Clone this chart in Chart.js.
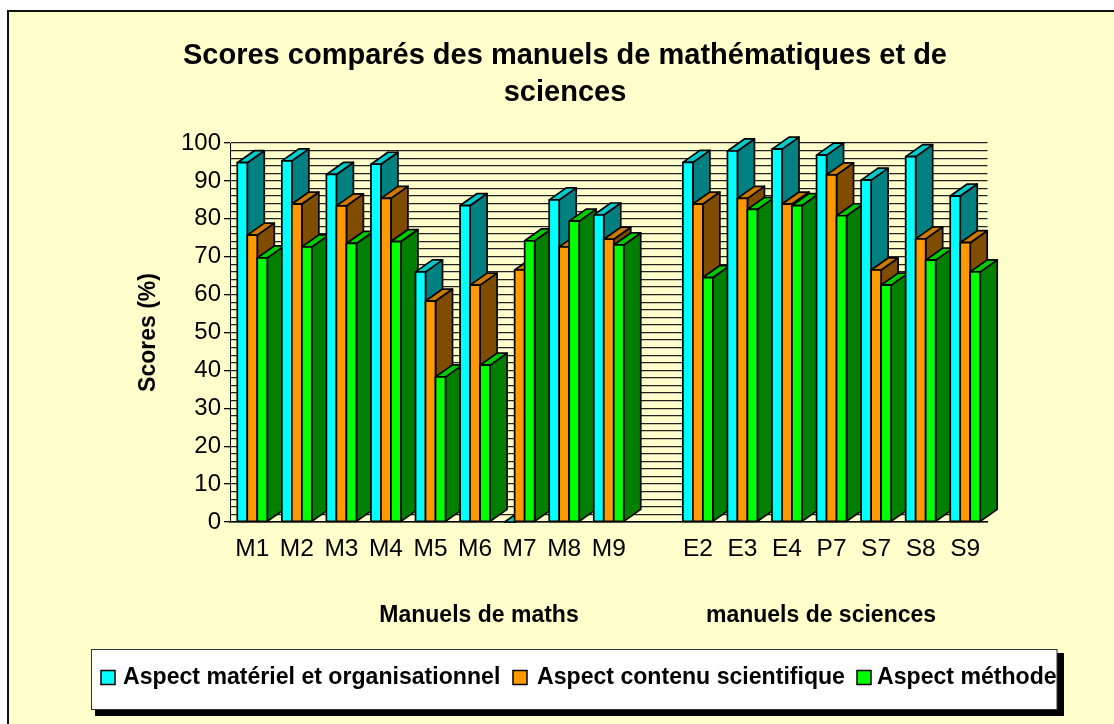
<!DOCTYPE html>
<html lang="fr">
<head>
<meta charset="utf-8">
<title>Scores comparés</title>
<script src="https://cdn.jsdelivr.net/npm/chart.js@4/dist/chart.umd.min.js"></script>
<style>
  html, body { margin: 0; padding: 0; background: #fff; overflow: hidden; }
  #bg { position: absolute; left: 7px; top: 10px; width: 1107px; height: 714px; box-sizing: border-box;
        background: #FFFFCC; border-left: 2px solid #111; border-top: 2px solid #111; }
  #chart { position: absolute; left: 18px; top: 0; }
</style>
</head>
<body>
<div id="bg"></div>
<canvas id="chart" width="1096" height="724"></canvas>
<script>
// categories (the empty one is the gap between maths and sciences)
const categories = ['M1', 'M2', 'M3', 'M4', 'M5', 'M6', 'M7', 'M8', 'M9', '', 'E2', 'E3', 'E4', 'P7', 'S7', 'S8', 'S9'];

// scores
const materiel = [94.8, 95.3, 91.7, 94.4, 66.0, 83.5, 0, 85.0, 81.0, null, 94.9, 97.9, 98.4, 96.8, 90.2, 96.4, 86.0];
const contenu  = [75.7, 83.9, 83.4, 85.4, 58.3, 62.5, 66.5, 72.6, 74.6, null, 83.9, 85.4, 83.9, 91.6, 66.5, 74.7, 73.7];
const methode  = [69.7, 72.6, 73.5, 74.0, 38.3, 41.4, 74.2, 79.4, 73.1, null, 64.5, 82.5, 83.5, 80.8, 62.5, 69.1, 66.0];

const seriesNames = ['Aspect matériel et organisationnel', 'Aspect contenu scientifique', 'Aspect méthode'];
const frontColors = ['#00FFFF', '#FF9900', '#00FF00'];
const sideColors  = ['#008080', '#7F4C00', '#007F00'];
const topColors   = ['#00CCCC', '#CC7A00', '#00CC00'];

const FONT = '"Liberation Sans", Arial, sans-serif';
const DX = 17, DY = 12; // profondeur 3D des barres

function poly(ctx, pts, color) {
  ctx.beginPath();
  pts.forEach((p, i) => i ? ctx.lineTo(p[0], p[1]) : ctx.moveTo(p[0], p[1]));
  ctx.closePath();
  ctx.fillStyle = color;
  ctx.fill();
  ctx.stroke();
}

// barres 3D: category by category so nearer bars cover the side of the previous ones
const bars3d = {
  id: 'bars3d',
  beforeDatasetsDraw(chart) {
    const ctx = chart.ctx;
    ctx.save();
    ctx.strokeStyle = '#000';
    ctx.lineWidth = 1.7;
    ctx.lineJoin = 'round';
    categories.forEach((c, i) => {
      chart.data.datasets.forEach((ds, d) => {
        if (ds.data[i] === null) return;
        const el = chart.getDatasetMeta(d).data[i];
        const l = el.x - el.width / 2, r = el.x + el.width / 2;
        poly(ctx, [[r, el.y], [r + DX, el.y - DY], [r + DX, el.base - DY], [r, el.base]], sideColors[d]);
        poly(ctx, [[l, el.y], [l + DX, el.y - DY], [r + DX, el.y - DY], [r, el.y]], topColors[d]);
        if (ds.data[i] > 0) {
          el.draw(ctx);
          ctx.strokeRect(l, el.y, el.width, el.base - el.y);
        }
      });
    });
    ctx.restore();
    return false;
  }
};

// axis group captions and framed legend
const extras = {
  id: 'extras',
  afterLayout(chart) {
    // title is centred a little right of the layout box
    chart.titleBlock.left += 3.75;
    chart.titleBlock.right += 3.75;
  },
  afterDraw(chart) {
    const ctx = chart.ctx;
    ctx.save();
    ctx.translate(-18, 0); // page coordinates

    ctx.fillStyle = '#000';
    ctx.font = 'bold 23px ' + FONT;
    ctx.textAlign = 'center';
    ctx.textBaseline = 'middle';
    ctx.fillText('Manuels de maths', 479, 616);
    ctx.fillText('manuels de sciences', 821, 616);

    ctx.fillStyle = '#000';
    ctx.fillRect(95, 653, 969, 63);
    ctx.fillStyle = '#fff';
    ctx.strokeStyle = '#333';
    ctx.lineWidth = 1;
    ctx.fillRect(91.5, 649.5, 965.5, 60);
    ctx.strokeRect(91.5, 649.5, 965.5, 60);

    const boxX = [101, 513, 857];
    const textX = [123, 537, 877];
    ctx.textAlign = 'left';
    ctx.font = 'bold 23.1px ' + FONT;
    seriesNames.forEach((name, i) => {
      ctx.fillStyle = frontColors[i];
      ctx.strokeStyle = '#000';
      ctx.lineWidth = 1.5;
      ctx.fillRect(boxX[i], 670.5, 14, 14);
      ctx.strokeRect(boxX[i], 670.5, 14, 14);
      ctx.fillStyle = '#000';
      ctx.fillText(name, textX[i], 678);
    });
    ctx.restore();
  }
};

new Chart(document.getElementById('chart'), {
  type: 'bar',
  data: {
    labels: categories,
    datasets: [materiel, contenu, methode].map((values, d) => ({
      label: seriesNames[d],
      data: values,
      backgroundColor: frontColors[d],
      borderWidth: 0,
      barPercentage: 1,
      categoryPercentage: 0.673
    }))
  },
  plugins: [bars3d, extras],
  options: {
    responsive: false,
    animation: false,
    layout: { autoPadding: false, padding: { left: 117, right: 126.5, top: 0, bottom: 150 } },
    plugins: {
      legend: { display: false },
      tooltip: { enabled: false },
      title: {
        display: true,
        text: ['Scores comparés des manuels de mathématiques et de', 'sciences'],
        color: '#000',
        font: { family: FONT, size: 29, weight: 'bold', lineHeight: 1.276 },
        padding: { top: 37.5, bottom: 31.5 }
      }
    },
    scales: {
      x: {
        afterFit(scale) { scale.height = 52; },
        grid: { display: false, drawTicks: false },
        border: { display: true, color: '#000', width: 1.5 },
        ticks: { autoSkip: false, maxRotation: 0, padding: 13, color: '#000', font: { family: FONT, size: 24.5 } }
      },
      y: {
        min: 0,
        max: 100,
        afterFit(scale) { scale.width = 95; },
        title: {
          display: true,
          text: 'Scores (%)',
          color: '#000',
          font: { family: FONT, size: 23, weight: 'bold' },
          padding: 0
        },
        grid: {
          color: '#222',
          lineWidth: 1.3,
          tickLength: 6,
          tickColor: ctx => (ctx.tick.value % 10 === 0 ? '#000' : 'transparent')
        },
        border: { display: true, color: '#000', width: 1 },
        ticks: {
          stepSize: 2,
          autoSkip: false,
          padding: 3,
          color: '#000',
          font: { family: FONT, size: 24 },
          callback: v => (v % 10 === 0 ? String(v) : '')
        }
      }
    }
  }
});
</script>
</body>
</html>
